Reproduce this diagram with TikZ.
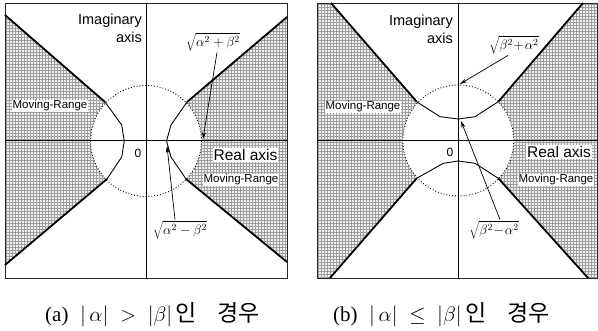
\RequirePackage{fix-cm}
\documentclass[tikz,border=0pt]{standalone}
\usepackage{fontspec}
\setmainfont{Liberation Serif}
\newfontfamily\arialfont{Liberation Sans}
\newfontfamily\krfont{Noto Sans CJK KR}
\usetikzlibrary{arrows.meta, patterns}

\begin{document}
\begin{tikzpicture}[
    x=1pt, y=-1pt,
    panelframe/.style={rectangle, draw=black!85, line width=0.6pt, minimum height=275pt, inner sep=0pt},
    movrange/.style={circle, draw, dotted, line width=0.9pt, fill=white, minimum size=111pt, inner sep=0pt},
    axisline/.style={line width=1pt},
    outerbranch/.style={line width=1.8pt},
    innerbranch/.style={line width=0.9pt},
    hatch/.style={fill=black!6, postaction={pattern=grid, pattern color=black!38}},
    lbl/.style={font=\arialfont\fontsize{11.5}{13}\selectfont, fill=white, inner sep=1pt},
    axlbl/.style={font=\arialfont\fontsize{15.5}{18}\selectfont, fill=white, inner sep=1pt},
    imlbl/.style={font=\arialfont\fontsize{14.5}{18}\selectfont, anchor=base east, inner sep=0pt},
    zerolbl/.style={font=\arialfont\fontsize{12}{14}\selectfont, inner sep=0pt},
    rootlbl/.style={font=\fontsize{13.5}{15}\selectfont, inner sep=1pt},
    captxt/.style={font=\fontsize{21}{24}\selectfont, anchor=west, inner sep=0pt},
    arr/.style={-{Stealth[length=7pt, width=4pt]}, line width=0.7pt}
]
\useasboundingbox (0,0) rectangle (598,331);

% Panel (a): shaded regions
\fill[hatch] (5,15) -- (105,102) -- (121.7,125) -- (124.3,141) -- (121.7,157) -- (107,179) -- (5,265) -- cycle;
\fill[hatch] (287,17) -- (187,102) -- (171,125) -- (166.5,141) -- (171,157) -- (186,179) -- (287,262) -- cycle;

% Panel (b): shaded regions
\fill[hatch] (317,3) -- (331,3) -- (416.7,101.7) -- (440,116.7) -- (458.3,119) -- (475,116.7) -- (498.3,101.7) -- (583,3) -- (597,3)
    -- (597,278) -- (588,278) -- (498.3,178.3) -- (475,163.3) -- (458.3,161) -- (443.3,163.3) -- (416.7,178.3) -- (330,278) -- (317,278) -- cycle;

% Frames and moving ranges
\node[panelframe, minimum width=282pt] (fa) at (146,140.5) {};
\node[panelframe, minimum width=280pt] (fb) at (457,140.5) {};
\node[movrange] (ca) at (146,141) {};
\node[movrange] (cb) at (458.3,140.5) {};

% Panel (a): branches
\draw[outerbranch] (5,15) -- (105,102);
\draw[innerbranch] (105,102) -- (121.7,125) -- (124.3,141) -- (121.7,157) -- (107,179);
\draw[outerbranch] (107,179) -- (5,265);
\draw[outerbranch] (287,17) -- (187,102);
\draw[innerbranch] (187,102) -- (171,125) -- (166.5,141) -- (171,157) -- (186,179);
\draw[outerbranch] (186,179) -- (287,262);

% Panel (b): branches
\draw[outerbranch] (331,3) -- (416.7,101.7);
\draw[innerbranch] (416.7,101.7) -- (440,116.7) -- (458.3,119) -- (475,116.7) -- (498.3,101.7);
\draw[outerbranch] (498.3,101.7) -- (583,3);
\draw[outerbranch] (330,278) -- (416.7,178.3);
\draw[innerbranch] (416.7,178.3) -- (443.3,163.3) -- (458.3,161) -- (475,163.3) -- (498.3,178.3);
\draw[outerbranch] (498.3,178.3) -- (588,278);

% Axes
\draw[axisline] (fa.west |- ca.center) -- (fa.east |- ca.center);
\draw[axisline] (fa.north -| ca.center) -- (fa.south -| ca.center);
\draw[axisline] (fb.west |- cb.center) -- (fb.east |- cb.center);
\draw[axisline] (fb.north -| cb.center) -- (fb.south -| cb.center);

% Panel (a): labels
\node[imlbl] (ima) at (142,25) {Imaginary};
\node[imlbl] (axa) at (142,43) {axis};
\node[zerolbl] (oa) at (138,153) {0};
\node[axlbl] (rea) at (245.5,155) {Real axis};
\node[lbl] (mla) at (50,106) {Moving-Range};
\node[lbl] (mra) at (241,180) {Moving-Range};
\node[rootlbl] (rpa) at (213,42) {$\sqrt{\alpha^2+\beta^2}$};
\node[rootlbl] (rma) at (180,230) {$\sqrt{\alpha^2-\beta^2}$};
\coordinate (ta1) at (203,139);
\coordinate (ta2) at (167,146);
\draw[arr] ([xshift=4pt]rpa.south) -- (ta1);
\draw[arr] ([xshift=-5pt]rma.north) -- (ta2);

% Panel (b): labels
\node[imlbl] (imb) at (453,26) {Imaginary};
\node[imlbl] (axb) at (453,44) {axis};
\node[zerolbl] (ob) at (450,152) {0};
\node[axlbl] (reb) at (559,152) {Real axis};
\node[lbl] (mlb) at (363,107) {Moving-Range};
\node[lbl] (mrb) at (556,180) {Moving-Range};
\node[rootlbl] (rpb) at (514,45) {$\sqrt{\beta^2\!+\!\alpha^2}$};
\node[rootlbl] (rmb) at (494,230) {$\sqrt{\beta^2\!-\!\alpha^2}$};
\coordinate (tb1) at (460,84);
\coordinate (tb2) at (461,121);
\draw[arr] ([xshift=-6pt]rpb.south) -- (tb1);
\draw[arr] ([xshift=6pt]rmb.north) -- (tb2);

% Captions
\node[captxt] (capa) at (45,315) {(a)\hspace{0.55em}$|\,\alpha|\;>\;|\beta|$\,{\krfont\fontsize{23}{24}\selectfont 인\hspace{0.9em}경우}};
\node[captxt] (capb) at (333,315) {(b)\hspace{0.55em}$|\,\alpha|\;\le\;|\beta|$\,{\krfont\fontsize{23}{24}\selectfont 인\hspace{0.9em}경우}};

\end{tikzpicture}
\end{document}
